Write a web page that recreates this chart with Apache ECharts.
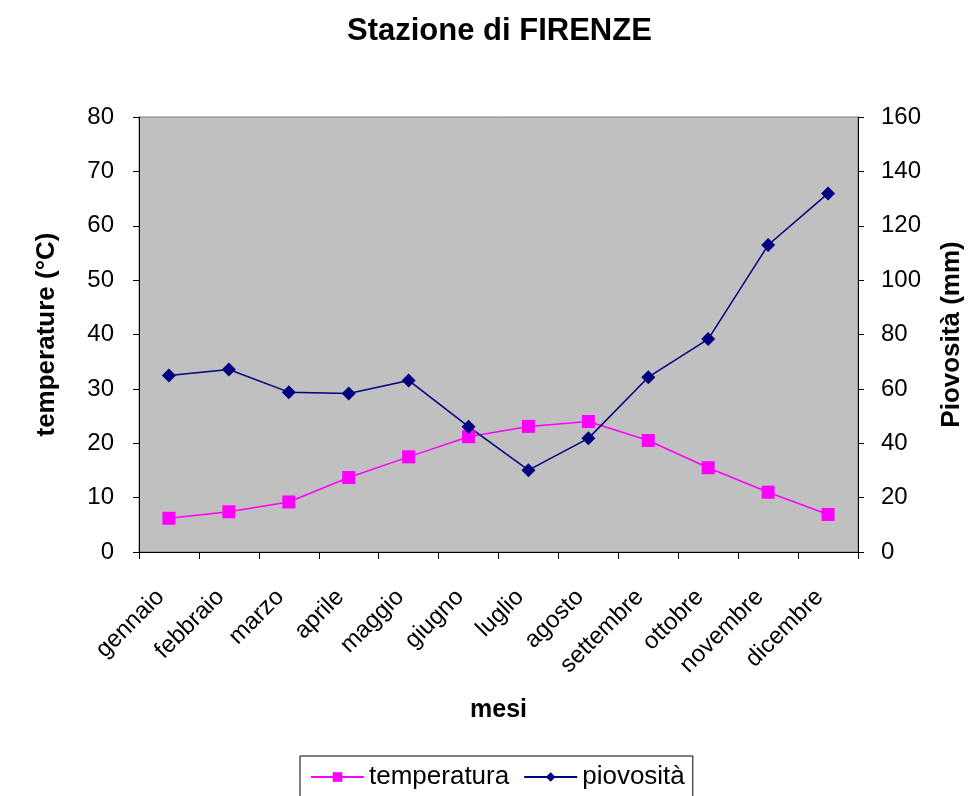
<!DOCTYPE html>
<html>
<head>
<meta charset="utf-8">
<script src="https://cdn.jsdelivr.net/npm/echarts@6/dist/echarts.min.js"></script>
<style>
  html, body { margin: 0; padding: 0; background: #fff; }
  #main { width: 973px; height: 796px; }
</style>
</head>
<body>
<div id="main"></div>
<script>
// dati
var mesi = ['gennaio', 'febbraio', 'marzo', 'aprile', 'maggio', 'giugno',
            'luglio', 'agosto', 'settembre', 'ottobre', 'novembre', 'dicembre'];
var temperatura = [6.2, 7.4, 9.2, 13.7, 17.5, 21.2, 23.1, 24.0, 20.5, 15.5, 11.0, 6.9];
var piovosita = [64.9, 67.1, 58.8, 58.3, 63.1, 46.1, 30.1, 41.8, 64.3, 78.3, 112.9, 131.9];

var font = 'Liberation Sans, Arial, sans-serif';

var myChart = echarts.init(document.getElementById('main'));
var option = {
  backgroundColor: '#fff',
  animation: false,
  textStyle: { fontFamily: font },
  title: {
    text: 'Stazione di FIRENZE',
    left: 342,
    top: 11,
    textStyle: { color: '#000', fontSize: 31, fontWeight: 'bold', fontFamily: font }
  },
  grid: {
    left: 139, right: 115, top: 117, bottom: 244,
    show: true,
    backgroundColor: '#c0c0c0',
    borderColor: '#808080',
    borderWidth: 1
  },
  legend: {
    left: 300, top: 756,
    padding: [8, 8, 20, 10],
    borderColor: '#000', borderWidth: 1,
    itemWidth: 53, itemHeight: 12, itemGap: 14,
    textStyle: { color: '#000', fontSize: 26, fontFamily: font },
    data: ['temperatura', 'piovosità']
  },
  xAxis: {
    type: 'category',
    data: mesi,
    boundaryGap: true,
    name: 'mesi',
    nameLocation: 'middle',
    nameGap: 146,
    nameTextStyle: { color: '#000', fontSize: 25, fontWeight: 'bold' },
    axisLine: { lineStyle: { color: '#000', width: 1 } },
    axisTick: { show: true, length: 7, lineStyle: { color: '#000' } },
    axisLabel: { color: '#000', fontSize: 24, rotate: 45, margin: 33, interval: 0, padding: [0, 12, 0, 0] },
    splitLine: { show: false }
  },
  yAxis: [
    {
      type: 'value', min: 0, max: 80, interval: 10,
      name: 'temperature (°C)',
      nameLocation: 'middle', nameRotate: 90, nameGap: 79,
      nameTextStyle: { color: '#000', fontSize: 26, fontWeight: 'bold' },
      axisLine: { show: true, lineStyle: { color: '#000' } },
      axisTick: { show: true, length: 6, lineStyle: { color: '#000' } },
      axisLabel: { color: '#000', fontSize: 24, margin: 25 },
      splitLine: { show: false }
    },
    {
      type: 'value', min: 0, max: 160, interval: 20,
      name: 'Piovosità (mm)',
      nameLocation: 'middle', nameRotate: 90, nameGap: 81,
      nameTextStyle: { color: '#000', fontSize: 26, fontWeight: 'bold' },
      axisLine: { show: true, lineStyle: { color: '#000' } },
      axisTick: { show: true, length: 6, lineStyle: { color: '#000' } },
      axisLabel: { color: '#000', fontSize: 24, margin: 23 },
      splitLine: { show: false }
    }
  ],
  series: [
    {
      name: 'temperatura',
      type: 'line',
      yAxisIndex: 0,
      data: temperatura,
      symbol: 'rect',
      symbolSize: 13,
      lineStyle: { color: '#ff00ff', width: 1.5 },
      itemStyle: { color: '#ff00ff', borderWidth: 0 }
    },
    {
      name: 'piovosità',
      type: 'line',
      yAxisIndex: 1,
      data: piovosita,
      symbol: 'diamond',
      symbolSize: 14,
      lineStyle: { color: '#000080', width: 1.5 },
      itemStyle: { color: '#000080', borderWidth: 0 }
    }
  ]
};
option && myChart.setOption(option);
</script>
</body>
</html>
